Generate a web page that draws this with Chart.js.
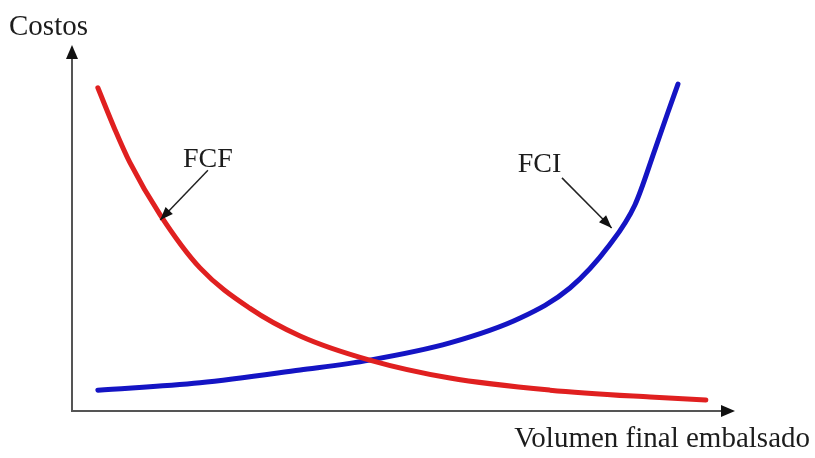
<!DOCTYPE html>
<html>
<head>
<meta charset="utf-8">
<script src="https://cdn.jsdelivr.net/npm/chart.js"></script>
<style>
  html, body { margin: 0; padding: 0; background: #fff; overflow: hidden; }
  #chart-wrapper { width: 815px; height: 458px; position: relative; }
</style>
</head>
<body>
<div id="chart-wrapper">
    <canvas id="my-chart" width="815" height="458"></canvas>
</div>

<script>
// curve data (x = volume, y = cost), 0..100 both ways
const fcfX = [3.9, 6.5, 8.7, 13.3, 19.3, 26.8, 34.4, 44.9, 57.0, 72.1, 87.2, 95.6];
const fcfY = [88.3, 76.8, 68.0, 53.6, 39.1, 28.1, 20.5, 13.9, 9.0, 5.7, 3.8, 3.0];
const fciX = [3.9, 19.3, 34.4, 44.9, 57.0, 67.6, 75.1, 81.1, 84.9, 87.9, 89.9, 91.4];
const fciY = [5.7, 7.7, 11.2, 13.9, 18.6, 25.4, 33.6, 45.4, 56.3, 71.3, 81.7, 89.3];

const seriesNames = ['FCF', 'FCI'];
const xTitle = 'Volumen final embalsado';
const yTitle = 'Costos';

// labels with arrows: text spot, arrow start, arrow tip
const notes = [
  { text: 'FCF', tx: 20.5, ty: 66.7, fx: 20.5, fy: 65.8, ex: 13.3, ey: 52.2 },
  { text: 'FCI', tx: 70.5, ty: 65.3, fx: 73.9, fy: 63.7, ex: 81.4, ey: 50.0 }
];

function toPoints(xs, ys) {
  return xs.map(function (x, i) { return { x: x, y: ys[i] }; });
}

function arrowHead(c, x1, y1, x2, y2, len, wid) {
  const a = Math.atan2(y2 - y1, x2 - x1);
  c.beginPath();
  c.moveTo(x2, y2);
  c.lineTo(x2 - len * Math.cos(a) + wid * Math.sin(a), y2 - len * Math.sin(a) - wid * Math.cos(a));
  c.lineTo(x2 - len * Math.cos(a) - wid * Math.sin(a), y2 - len * Math.sin(a) + wid * Math.cos(a));
  c.closePath();
  c.fill();
}

const decorations = {
  id: 'decorations',
  beforeDatasetsDraw(chart) {
    const c = chart.ctx;
    const xs = chart.scales.x, ys = chart.scales.y;
    const x0 = xs.getPixelForValue(0), y0 = ys.getPixelForValue(0);
    const xEnd = xs.getPixelForValue(100), yEnd = ys.getPixelForValue(100);
    c.save();
    c.strokeStyle = '#555';
    c.fillStyle = '#111';
    c.lineWidth = 2;
    c.beginPath();
    c.moveTo(x0, yEnd + 10);
    c.lineTo(x0, y0);
    c.lineTo(xEnd - 10, y0);
    c.stroke();
    arrowHead(c, x0, y0, x0, yEnd, 14, 6);
    arrowHead(c, x0, y0, xEnd, y0, 14, 6);
    c.fillStyle = '#1c1c1c';
    c.font = '29px "Liberation Serif", "Times New Roman", serif';
    c.textBaseline = 'alphabetic';
    c.textAlign = 'left';
    c.fillText(yTitle, 9, 35);
    c.textAlign = 'right';
    c.fillText(xTitle, 810, 447);
    c.restore();
  },
  afterDatasetsDraw(chart) {
    const c = chart.ctx;
    const xs = chart.scales.x, ys = chart.scales.y;
    c.save();
    c.font = '28px "Liberation Serif", "Times New Roman", serif';
    c.fillStyle = '#1c1c1c';
    c.strokeStyle = '#222';
    c.lineWidth = 1.5;
    c.textAlign = 'center';
    c.textBaseline = 'alphabetic';
    notes.forEach(function (n) {
      c.fillText(n.text, xs.getPixelForValue(n.tx), ys.getPixelForValue(n.ty));
      const fx = xs.getPixelForValue(n.fx), fy = ys.getPixelForValue(n.fy);
      const ex = xs.getPixelForValue(n.ex), ey = ys.getPixelForValue(n.ey);
      c.beginPath();
      c.moveTo(fx, fy);
      c.lineTo(ex, ey);
      c.stroke();
      c.fillStyle = '#111';
      arrowHead(c, fx, fy, ex, ey, 13, 5);
      c.fillStyle = '#1c1c1c';
    });
    c.restore();
  }
};

const ctx = document.getElementById('my-chart');
const chart = new Chart(ctx, {
  type: 'scatter',
  data: {
    datasets: [
      {
        label: seriesNames[0],
        data: toPoints(fcfX, fcfY),
        showLine: true,
        borderColor: '#e02020',
        borderWidth: 5,
        pointRadius: 0,
        cubicInterpolationMode: 'monotone',
        borderCapStyle: 'round'
      },
      {
        label: seriesNames[1],
        data: toPoints(fciX, fciY),
        showLine: true,
        borderColor: '#1414c4',
        borderWidth: 5,
        pointRadius: 0,
        cubicInterpolationMode: 'monotone',
        borderCapStyle: 'round'
      }
    ]
  },
  options: {
    responsive: false,
    animation: false,
    devicePixelRatio: 1,
    layout: { padding: { left: 72, right: 80, top: 45, bottom: 47 } },
    plugins: { legend: { display: false }, tooltip: { enabled: false } },
    scales: {
      x: { type: 'linear', min: 0, max: 100, display: false },
      y: { type: 'linear', min: 0, max: 100, display: false }
    }
  },
  plugins: [decorations]
});
</script>
</body>
</html>
